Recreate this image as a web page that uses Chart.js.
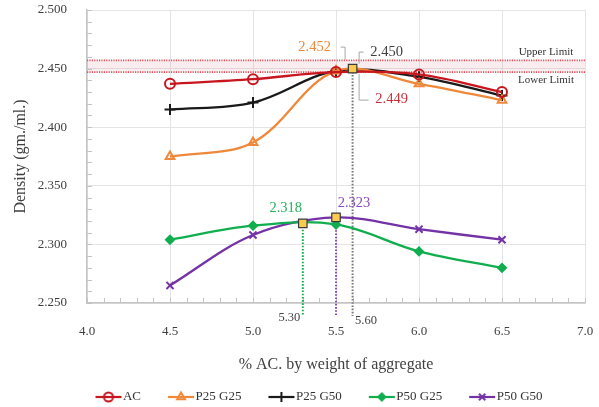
<!DOCTYPE html>
<html><head><meta charset="utf-8">
<script src="https://cdn.jsdelivr.net/npm/chart.js@4"></script>
<style>html,body{margin:0;padding:0;background:#fff;}</style>
</head><body>
<canvas id="c" width="599" height="407"></canvas>
<script>
// ---- data ----
const acContents = [4.5, 5.0, 5.5, 6.0, 6.5];
const seriesNames = ['AC', 'P25 G25', 'P25 G50', 'P50 G25', 'P50 G50'];
const acDensity     = [2.437, 2.441, 2.447, 2.445, 2.430];
const p25g25Density = [2.375, 2.387, 2.448, 2.437, 2.423];
const p25g50Density = [2.415, 2.421, 2.448, 2.443, 2.427];
const p50g25Density = [2.304, 2.316, 2.317, 2.294, 2.280];
const p50g50Density = [2.265, 2.308, 2.323, 2.313, 2.304];
const optimumX = [5.60, 5.30, 5.50];
const optimumY = [2.450, 2.318, 2.323];
const optimumXLabels = ['5.60', '5.30', ''];
const peakLabels = ['2.452', '2.450', '2.449', '2.318', '2.323'];
const upperLimit = 2.457;
const lowerLimit = 2.447;
const limitLabels = ['Upper Limit', 'Lower Limit'];
const xTitle = '% AC. by weight of aggregate';
const yTitle = 'Density (gm./ml.)';

// ---- styles ----
const colors = ['#C8161E', '#F0883A', '#1A1A1A', '#10AE4E', '#7332A6'];
const styles = ['circle', 'triangle', 'cross', 'rectRot', 'crossRot'];
const radii = [5, 5, 5.5, 4, 5];
const fills = ['rgba(0,0,0,0)', 'rgba(0,0,0,0)', '#1A1A1A', '#10AE4E', '#7332A6'];
const seriesValues = [acDensity, p25g25Density, p25g50Density, p50g25Density, p50g50Density];
const FONT = "'Liberation Serif', 'Times New Roman', serif";

function legendIcon(i) {
  const cv = document.createElement('canvas');
  cv.width = 28; cv.height = 14;
  const c = cv.getContext('2d');
  c.strokeStyle = colors[i]; c.lineWidth = 2.2;
  c.beginPath(); c.moveTo(1, 7); c.lineTo(27, 7); c.stroke();
  c.fillStyle = fills[i]; c.strokeStyle = colors[i]; c.lineWidth = 2;
  Chart.helpers.drawPoint(c, {pointStyle: styles[i], radius: radii[i] - 0.5, borderWidth: 2}, 14, 7);
  return cv;
}

const datasets = seriesValues.map((vals, i) => ({
  label: seriesNames[i],
  data: acContents.map((x, j) => ({x, y: vals[j]})),
  borderColor: colors[i],
  backgroundColor: fills[i],
  borderWidth: 2.3,
  pointStyle: styles[i],
  pointRadius: radii[i],
  pointBorderWidth: 2,
  pointBorderColor: colors[i],
  pointBackgroundColor: fills[i],
  tension: 0.35,
  fill: false,
  clip: false
}));
datasets.push({
  label: 'optimum',
  data: optimumX.map((x, j) => ({x, y: optimumY[j]})),
  showLine: false,
  pointStyle: 'rect',
  pointRadius: 6,
  pointBorderWidth: 1.2,
  pointBorderColor: '#3a3a3a',
  pointBackgroundColor: '#F9CB4F',
  order: -1,
  clip: false
});

const overlay = {
  id: 'overlay',
  afterLayout(chart) {
    const lg = chart.legend;
    lg.left += 23.5; lg.right += 23.5; lg.top += 6.5; lg.bottom += 6.5;
  },
  beforeDatasetsDraw(chart) {
    const {ctx, chartArea: a, scales: {x, y}} = chart;
    ctx.save();
    // minor ticks
    ctx.strokeStyle = '#c4c4c4'; ctx.lineWidth = 1;
    for (let k = 0; k <= 25; k++) {
      const py = Math.round(y.getPixelForValue(2.25 + k * 0.01)) + 0.5;
      ctx.beginPath(); ctx.moveTo(a.left, py); ctx.lineTo(a.left + 5, py); ctx.stroke();
    }
    for (let k = 0; k <= 30; k++) {
      const px = Math.round(x.getPixelForValue(4 + k * 0.1)) + 0.5;
      ctx.beginPath(); ctx.moveTo(px, a.bottom); ctx.lineTo(px, a.bottom - 5); ctx.stroke();
    }
    // limit band
    const yu = y.getPixelForValue(upperLimit), yl = y.getPixelForValue(lowerLimit);
    ctx.fillStyle = 'rgba(215,110,120,0.12)';
    ctx.fillRect(a.left, yu, a.right - a.left, yl - yu);
    ctx.strokeStyle = '#E0505A'; ctx.lineWidth = 1.6; ctx.setLineDash([1.2, 1.2]);
    [yu, yl].forEach(py => { ctx.beginPath(); ctx.moveTo(a.left, py); ctx.lineTo(a.right, py); ctx.stroke(); });
    // vertical dotted lines
    const vcol = ['#7a7a7a', '#10AE4E', '#8A4CC0'];
    ctx.lineWidth = 2; ctx.setLineDash([1.6, 1.6]);
    optimumX.forEach((vx, i) => {
      const px = x.getPixelForValue(vx), py = y.getPixelForValue(optimumY[i]);
      ctx.strokeStyle = vcol[i];
      ctx.beginPath(); ctx.moveTo(px, py); ctx.lineTo(px, a.bottom + 13); ctx.stroke();
    });
    ctx.restore();
  },
  afterDatasetsDraw(chart) {
    const {ctx, chartArea: a, scales: {x, y}} = chart;
    ctx.save();
    const yu = y.getPixelForValue(upperLimit), yl = y.getPixelForValue(lowerLimit);
    ctx.font = '11px ' + FONT; ctx.fillStyle = '#333'; ctx.textAlign = 'center'; ctx.textBaseline = 'middle';
    ctx.fillText(limitLabels[0], 546, yu - 8);
    ctx.fillText(limitLabels[1], 546, yl + 8);
    // x labels for optimum
    ctx.font = '12.5px ' + FONT; ctx.fillStyle = '#404040';
    const p0 = x.getPixelForValue(optimumX[0]), p1 = x.getPixelForValue(optimumX[1]);
    ctx.textAlign = 'left'; ctx.fillText(optimumXLabels[0], p0 + 2.5, a.bottom + 18);
    ctx.textAlign = 'right'; ctx.fillText(optimumXLabels[1], p1 - 2.5, a.bottom + 15);
    // peak labels
    const sx = p0, sy = y.getPixelForValue(optimumY[0]);
    ctx.font = '14.5px ' + FONT; ctx.textAlign = 'center';
    ctx.fillStyle = '#F0883A'; ctx.fillText(peakLabels[0], sx - 38, sy - 21);
    ctx.fillStyle = '#404040'; ctx.fillText(peakLabels[1], sx + 34, sy - 16);
    ctx.fillStyle = '#C8323C'; ctx.fillText(peakLabels[2], sx + 39, sy + 31);
    const g = x.getPixelForValue(optimumX[1]), gy = y.getPixelForValue(optimumY[1]);
    ctx.fillStyle = '#22B45A'; ctx.fillText(peakLabels[3], g - 17, gy - 15);
    const pp = x.getPixelForValue(optimumX[2]), ppy = y.getPixelForValue(optimumY[2]);
    ctx.fillStyle = '#8A4CC0'; ctx.fillText(peakLabels[4], pp + 18, ppy - 14);
    // leaders
    ctx.strokeStyle = '#a6a6a6'; ctx.lineWidth = 1;
    ctx.beginPath();
    ctx.moveTo(sx - 12, sy - 21.5); ctx.lineTo(sx - 7.5, sy - 21.5); ctx.lineTo(sx - 7.5, sy - 9);
    ctx.moveTo(sx + 11, sy - 16.5); ctx.lineTo(sx + 6.5, sy - 16.5); ctx.lineTo(sx + 6.5, sy - 5);
    ctx.moveTo(sx + 6.5, sy + 5); ctx.lineTo(sx + 6.5, sy + 31.5); ctx.lineTo(sx + 16, sy + 31.5);
    ctx.stroke();
    ctx.restore();
  }
};

new Chart(document.getElementById('c'), {
  type: 'line',
  data: {datasets},
  plugins: [overlay],
  options: {
    responsive: false,
    animation: false,
    events: [],
    layout: {padding: {left: 11, right: 14, top: 10, bottom: 0}},
    scales: {
      x: {
        type: 'linear', min: 4, max: 7,
        afterFit(s) { s.height = 49; s.paddingLeft = 0; s.paddingRight = 0; },
        ticks: {stepSize: 0.5, padding: 21, color: '#404040', font: {family: FONT, size: 13},
          callback: v => Number(v).toFixed(1)},
        grid: {color: '#e4e4e4', lineWidth: 1, drawTicks: false},
        border: {color: '#c4c4c4', width: 1.5},
        title: {display: true, text: xTitle, color: '#404040', font: {family: FONT, size: 16}, padding: {top: 0, bottom: -22}}
      },
      y: {
        type: 'linear', min: 2.25, max: 2.5,
        afterFit(s) { s.width = 76; s.paddingTop = 0; s.paddingBottom = 0; },
        ticks: {stepSize: 0.05, padding: 20, color: '#404040', font: {family: FONT, size: 13},
          callback: v => Number(v).toFixed(3)},
        grid: {color: '#e4e4e4', lineWidth: 1, drawTicks: false},
        border: {color: '#c4c4c4', width: 1.5},
        title: {display: true, text: yTitle, color: '#404040', font: {family: FONT, size: 16}, padding: {top: 0, bottom: 0}}
      }
    },
    plugins: {
      tooltip: {enabled: false},
      legend: {
        position: 'bottom',
        labels: {
          usePointStyle: true,
          pointStyleWidth: 16,
          padding: 32,
          color: '#333',
          font: {family: FONT, size: 13},
          generateLabels(chart) {
            return seriesNames.map((n, i) => ({
              text: n, datasetIndex: i, pointStyle: legendIcon(i),
              fillStyle: colors[i], strokeStyle: colors[i], lineWidth: 0, hidden: false, fontColor: '#333'
            }));
          }
        }
      }
    }
  }
});
</script>
</body></html>
